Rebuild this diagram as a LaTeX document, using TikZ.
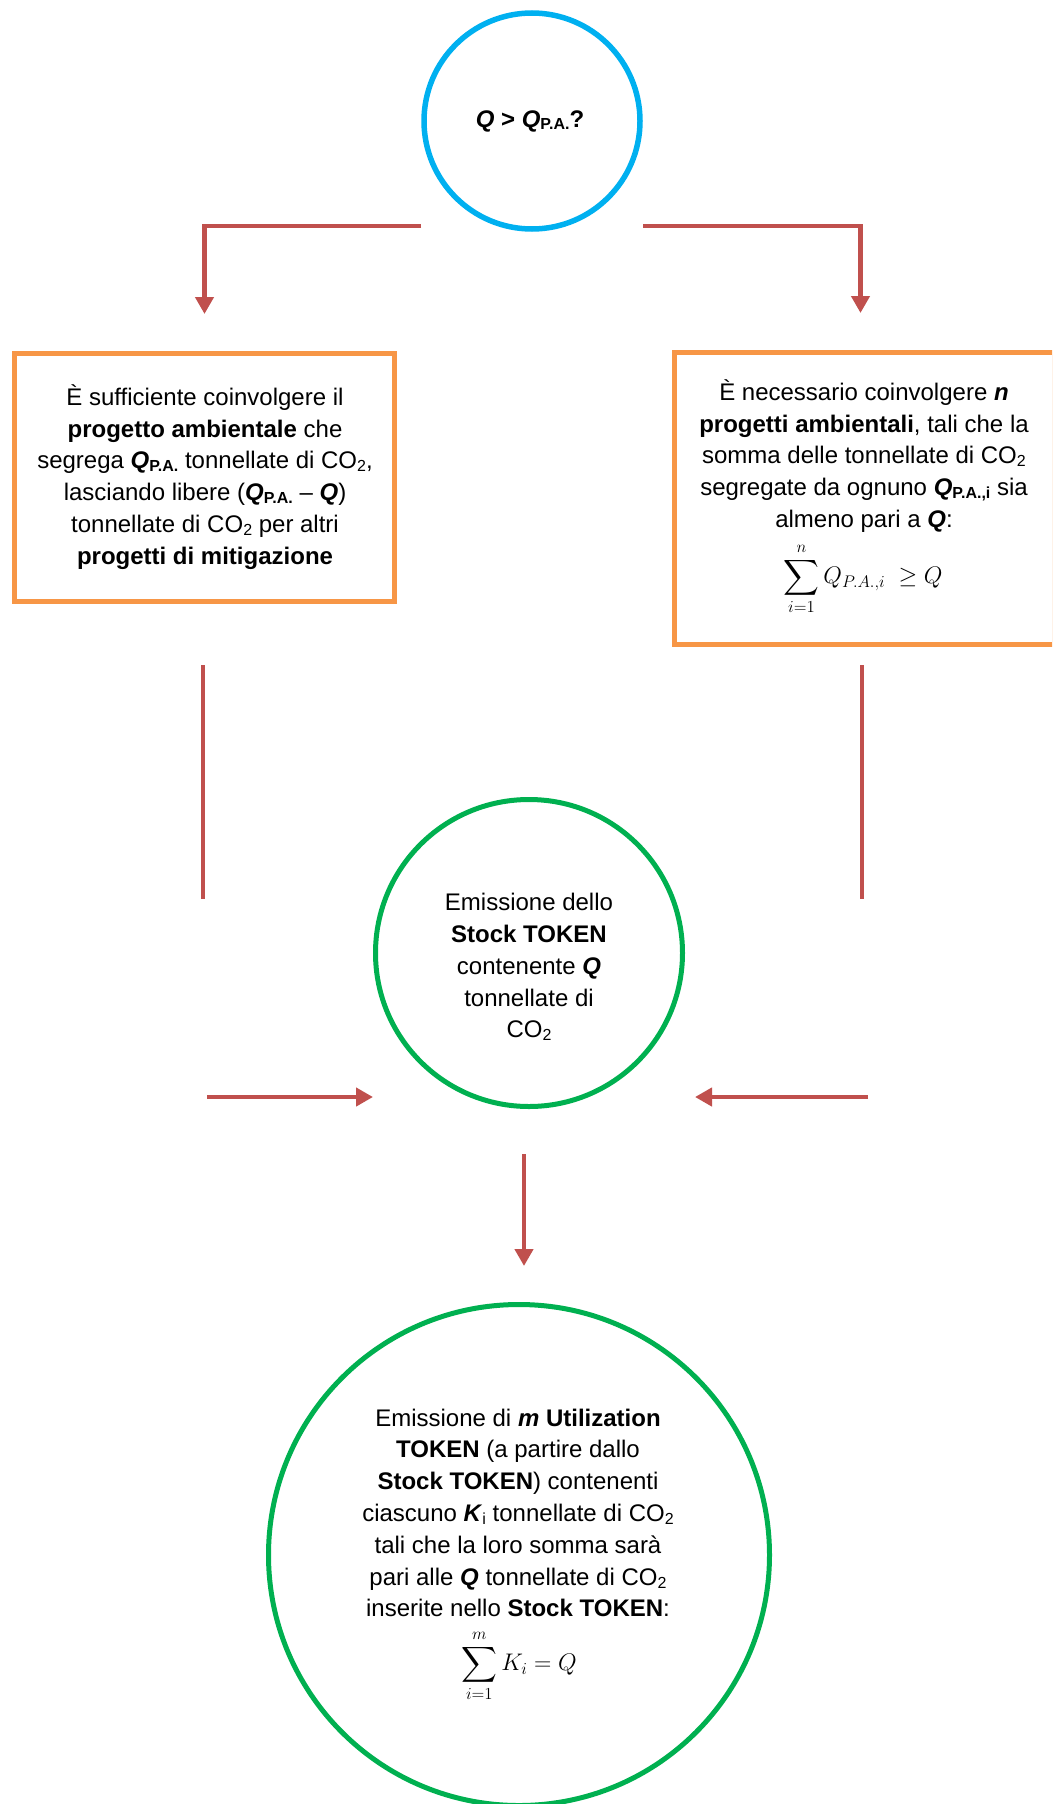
\RequirePackage{fix-cm}
\documentclass[tikz,border=0pt]{standalone}
\usepackage{amsmath}
\usepackage{fontspec}
\setmainfont{Liberation Sans}
\usetikzlibrary{arrows.meta}
\definecolor{cblue}{HTML}{00B0F0}
\definecolor{corange}{HTML}{F79646}
\definecolor{cred}{HTML}{C0504D}
\definecolor{cgreen}{HTML}{00B050}
\newcommand\lo[1]{\raisebox{-0.12em}{\fontsize{16}{16}\selectfont #1}}
\newcommand\bq[1]{\textbf{\textit{#1}}}
\begin{document}
\begin{tikzpicture}[x=1pt,y=-1pt,
  txt/.style={align=center,inner sep=0,font=\fontsize{24}{31.8}\selectfont},
  frm/.style={inner sep=0,font=\fontsize{24}{30}\selectfont},
  ring/.style={circle,draw,line width=5.5pt,inner sep=0},
  pbox/.style={rectangle,draw=corange,line width=5pt,inner sep=0},
  conn/.style={draw=cred,line width=4.5pt,-{Triangle[width=18pt,length=17pt]}},
  plain/.style={draw=cred,line width=4.5pt}]
\useasboundingbox (0,0) rectangle (1052,1804);
\clip (0,0) rectangle (1052,1804);
% shapes
\node[ring,draw=cblue,minimum size=216] (c1) at (532,121) {};
\node[txt] (t1) at (530,121) {\bq{Q} \textbf{>} \bq{Q}\lo{\textbf{P.A.}}\textbf{?}};
\node[pbox,minimum width=380,minimum height=248] (lbox) at (204.5,477.5) {};
\node[txt] (lt) at (205,477) {È sufficiente coinvolgere il\\
\textbf{progetto ambientale} che\\
segrega \bq{Q}\lo{\textbf{P.A.}} tonnellate di CO\lo{2},\\
lasciando libere (\bq{Q}\lo{\textbf{P.A.}} – \bq{Q})\\
tonnellate di CO\lo{2} per altri\\
\textbf{progetti di mitigazione}};
\node[pbox,minimum width=380,minimum height=292] (rbox) at (864.5,498.5) {};
\node[txt] (rt) at (864,456) {È necessario coinvolgere \bq{n}\\
\textbf{progetti ambientali}, tali che la\\
somma delle tonnellate di CO\lo{2}\\
segregate da ognuno \bq{Q}\lo{\textbf{P.A.,i}} sia\\
almeno pari a \bq{Q}:};
\node[frm] (rf) at (863,579) {$\displaystyle\sum_{i=1}^{n} Q_{P.A.{,}i}\ \geq Q$};
\node[ring,draw=cgreen,line width=5pt,minimum size=307] (c2) at (529,953) {};
\node[txt] (t2) at (529,967) {Emissione dello\\
\textbf{Stock TOKEN}\\
contenente \bq{Q}\\
tonnellate di\\
CO\lo{2}};
\node[ring,draw=cgreen,line width=5pt,minimum size=501] (c3) at (519,1555) {};
\node[txt] (t3) at (518,1513) {Emissione di \bq{m} \textbf{Utilization}\\
\textbf{TOKEN} (a partire dallo\\
\textbf{Stock TOKEN}) contenenti\\
ciascuno \bq{K}\lo{i} tonnellate di CO\lo{2}\\
tali che la loro somma sarà\\
pari alle \bq{Q} tonnellate di CO\lo{2}\\
inserite nello \textbf{Stock TOKEN}:};
\node[frm] (bf) at (519,1666) {$\displaystyle\sum_{i=1}^{m} K_i = Q$};
% connector ends
\coordinate (ql) at (421,226);
\coordinate (qr) at (643,226);
\coordinate (lv1) at (203,665);
\coordinate (lv2) at (203,899);
\coordinate (rv1) at (862,665);
\coordinate (rv2) at (862,899);
\coordinate (ha1) at (207,1097);
\coordinate (ha2) at (373,1097);
\coordinate (hb1) at (868,1097);
\coordinate (hb2) at (695,1097);
\coordinate (da1) at (524,1154);
\coordinate (da2) at (524,1266);
% connectors
\draw[conn] (ql) -| ([yshift=37pt]lbox.north);
\draw[conn] (qr) -| ([xshift=-4pt,yshift=37pt]rbox.north);
\draw[plain] (lv1) -- (lv2);
\draw[plain] (rv1) -- (rv2);
\draw[conn] (ha1) -- (ha2);
\draw[conn] (hb1) -- (hb2);
\draw[conn] (da1) -- (da2);
\end{tikzpicture}
\end{document}
